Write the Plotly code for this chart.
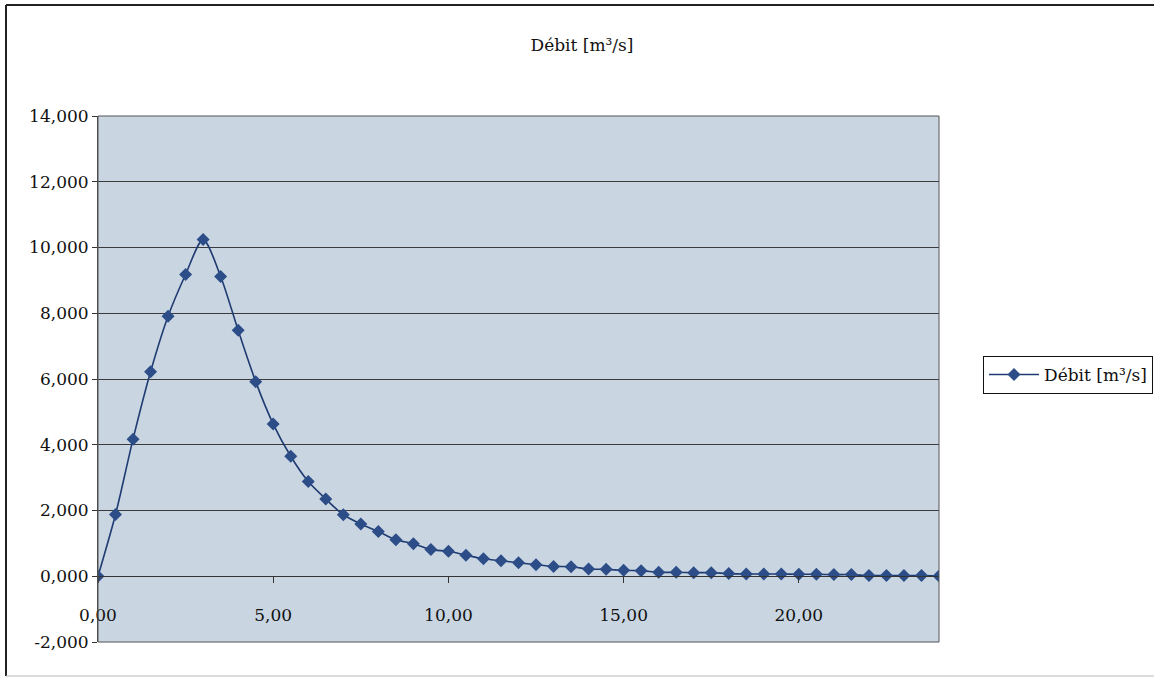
import plotly.graph_objects as go

# Data (time in hours, discharge in m3/s)
time_h = [0.0, 0.5, 1.0, 1.5, 2.0, 2.5, 3.0, 3.5, 4.0, 4.5, 5.0, 5.5, 6.0, 6.5, 7.0, 7.5,
          8.0, 8.5, 9.0, 9.5, 10.0, 10.5, 11.0, 11.5, 12.0, 12.5, 13.0, 13.5, 14.0, 14.5,
          15.0, 15.5, 16.0, 16.5, 17.0, 17.5, 18.0, 18.5, 19.0, 19.5, 20.0, 20.5, 21.0,
          21.5, 22.0, 22.5, 23.0, 23.5, 24.0]
debit = [0.00, 1.88, 4.17, 6.22, 7.91, 9.18, 10.24, 9.12, 7.48, 5.92, 4.63, 3.65, 2.88,
         2.35, 1.87, 1.59, 1.36, 1.11, 0.99, 0.81, 0.76, 0.64, 0.53, 0.47, 0.41, 0.35,
         0.30, 0.29, 0.22, 0.21, 0.18, 0.17, 0.12, 0.12, 0.11, 0.11, 0.08, 0.07, 0.07,
         0.07, 0.06, 0.06, 0.05, 0.05, 0.02, 0.02, 0.02, 0.02, 0.01]
series_name = "Débit [m³/s]"
chart_title = "Débit [m³/s]"
y_ticks = [-2, 0, 2, 4, 6, 8, 10, 12, 14]
y_tick_labels = ["-2,000", "0,000", "2,000", "4,000", "6,000", "8,000", "10,000", "12,000", "14,000"]
x_ticks = [0, 5, 10, 15, 20]
x_tick_labels = ["0,00", "5,00", "10,00", "15,00", "20,00"]

W, H = 1154, 678
L, R, T, B = 98, 939, 116, 642
pw, ph = R - L, B - T

def px(x):
    return (x - L) / pw

def py(y):
    return (B - y) / ph

FONT = "DejaVu Serif"
FS = 17
BLUE = "#2C4D88"

fig = go.Figure()
fig.add_trace(go.Scatter(
    x=time_h, y=debit, name=series_name, mode="lines+markers",
    line=dict(color="#1F3B72", width=1.6, shape="spline", smoothing=0.8),
    marker=dict(symbol="diamond", size=10, color=BLUE, line=dict(width=0)),
))

ymin, ymax = -2, 14
fig.update_layout(
    width=W, height=H,
    margin=dict(l=L, r=W - R, t=T, b=H - B, pad=0, autoexpand=False),
    paper_bgcolor="white",
    plot_bgcolor="#C9D6E1",
    font=dict(family=FONT, size=FS, color="#111111"),
    title=dict(text=chart_title, x=582 / W, xanchor="center", xref="container",
               y=1 - 45 / H, yanchor="middle", yref="container",
               font=dict(family=FONT, size=FS, color="#111111")),
    showlegend=True,
    legend=dict(x=983 / W, y=1 - 375 / H, xref="container", yref="container",
                xanchor="left", yanchor="middle",
                bgcolor="white", bordercolor="#111111", borderwidth=1,
                font=dict(family=FONT, size=FS, color="#111111"),
                itemwidth=50, tracegroupgap=0),
    xaxis=dict(range=[0, 24], tickvals=x_ticks, ticktext=x_tick_labels,
               showgrid=False, zeroline=False,
               showline=True, linecolor="#333333", linewidth=1,
               ticks="outside", ticklen=6, tickcolor="#333333",
               anchor="free", position=(0 - ymin) / (ymax - ymin),
               ticklabelstandoff=17,
               tickfont=dict(family=FONT, size=FS, color="#111111")),
    yaxis=dict(range=[ymin, ymax], tickvals=y_ticks, ticktext=y_tick_labels,
               showgrid=True, gridcolor="#3A3A3A", gridwidth=1,
               zeroline=False,
               showline=True, linecolor="#444444", linewidth=1,
               ticks="outside", ticklen=5, tickcolor="#333333",
               tickfont=dict(family=FONT, size=FS, color="#111111")),
)

# plot area border
fig.add_shape(type="rect", xref="paper", yref="paper", x0=0, x1=1, y0=0, y1=1,
              line=dict(color="#555555", width=1), fillcolor="rgba(0,0,0,0)", layer="above")
# chart area border (left, top, bottom)
fig.add_shape(type="line", xref="paper", yref="paper", x0=px(6), x1=px(6), y0=py(676), y1=py(5),
              line=dict(color="#222222", width=2))
fig.add_shape(type="line", xref="paper", yref="paper", x0=px(6), x1=px(1160), y0=py(5), y1=py(5),
              line=dict(color="#222222", width=2))
fig.add_shape(type="line", xref="paper", yref="paper", x0=px(6), x1=px(1160), y0=py(676), y1=py(676),
              line=dict(color="#BBBBBB", width=1))

fig.write_html("out.html")
